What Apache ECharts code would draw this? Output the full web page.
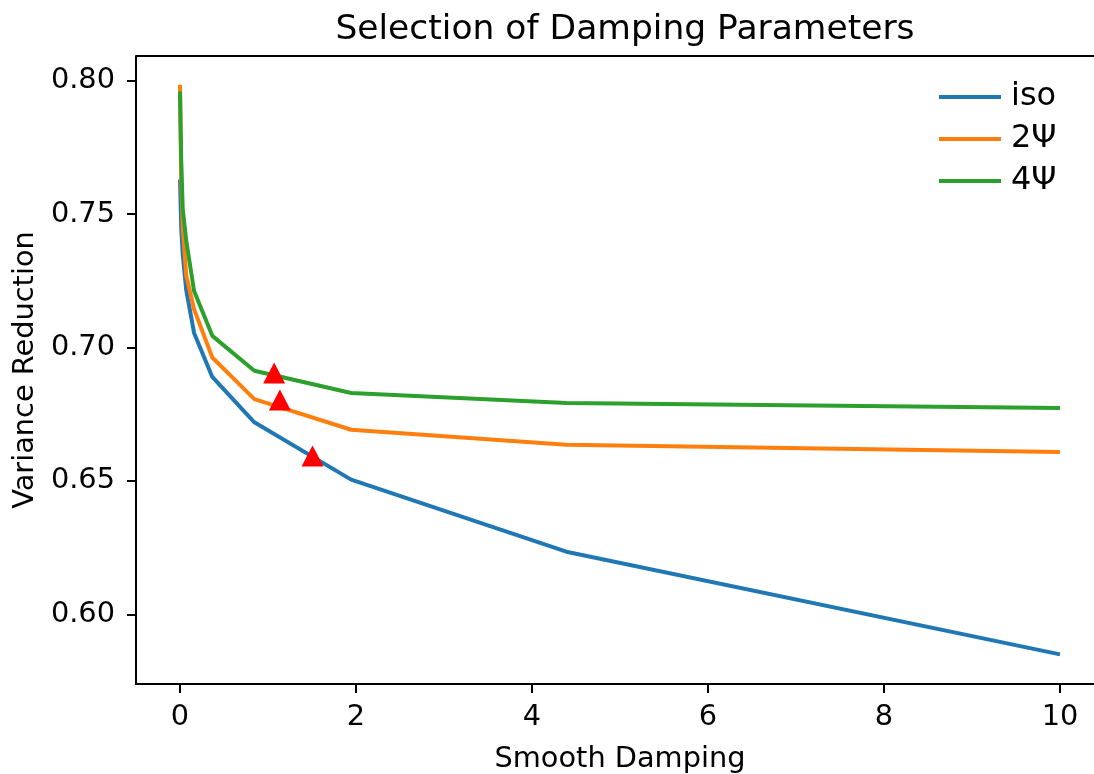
<!DOCTYPE html>
<html>
<head>
<meta charset="utf-8">
<script src="https://cdn.jsdelivr.net/npm/echarts@6/dist/echarts.min.js"></script>
<style>html,body{margin:0;padding:0;background:#fff}#c{width:1094px;height:774px}</style>
</head>
<body>
<div id="c"></div>
<script>
const xValues = [0, 0.014, 0.031, 0.071, 0.16, 0.367, 0.845, 1.945, 4.39, 10];
const isoValues = [0.763, 0.745, 0.735, 0.7215, 0.7055, 0.689, 0.672, 0.6505, 0.6235, 0.585];
const psi2Values = [0.7985, 0.762, 0.745, 0.727, 0.7144, 0.6963, 0.6807, 0.6692, 0.6636, 0.6609];
const psi4Values = [0.796, 0.770, 0.752, 0.740, 0.7212, 0.7044, 0.6913, 0.683, 0.6792, 0.6774];
const markerX = [1.07, 1.135, 1.506];
const markerY = [0.6905, 0.6804, 0.6594];
const xTicks = [0, 2, 4, 6, 8, 10];
const yTicks = [0.60, 0.65, 0.70, 0.75, 0.80];
const seriesNames = ['iso', '2Ψ', '4Ψ'];
const colors = ['#1f77b4', '#ff7f0e', '#2ca02c'];

const font = 'DejaVu Sans';
const pair = (xs, ys) => xs.map((x, i) => [x, ys[i]]);
const lineSeries = [isoValues, psi2Values, psi4Values].map((vals, i) => ({
  name: seriesNames[i], type: 'line', data: pair(xValues, vals),
  symbol: 'none', showSymbol: false, lineStyle: { width: 4, color: colors[i] }, itemStyle: { color: colors[i] },
  z: 2 + i, animation: false
}));

const chart = echarts.init(document.getElementById('c'), null, { renderer: 'canvas' });
chart.setOption({
  animation: false,
  backgroundColor: '#fff',
  title: {
    text: 'Selection of Damping Parameters', left: 620, textAlign: 'center', top: 8,
    textStyle: { fontFamily: font, fontSize: 34.5, fontWeight: 'normal', color: '#000' }
  },
  grid: { left: 136, top: 56, right: -10, bottom: 90, containLabel: false, outerBoundsMode: 'none' },
  legend: {
    data: seriesNames, orient: 'vertical', left: 934, top: 76,
    icon: 'rect', itemWidth: 62, itemHeight: 4, itemGap: 10,
    textStyle: { fontFamily: font, fontSize: 32, color: '#000', padding: [0, 0, 0, 5] }
  },
  xAxis: {
    type: 'value', min: -0.5, max: 10.5,
    name: 'Smooth Damping', nameLocation: 'middle', nameGap: 61,
    nameTextStyle: { fontFamily: font, fontSize: 28.8, color: '#000' },
    axisLine: { onZero: false, lineStyle: { color: '#000', width: 2 } },
    axisTick: { show: true, inside: false, length: 9, lineStyle: { color: '#000', width: 2 }, customValues: xTicks },
    axisLabel: { fontFamily: font, fontSize: 28.8, color: '#000', margin: 19, customValues: xTicks, formatter: v => String(v) },
    splitLine: { show: false }
  },
  yAxis: {
    type: 'value', min: 0.5739, max: 0.8093,
    name: 'Variance Reduction', nameLocation: 'middle', nameGap: 92,
    nameTextStyle: { fontFamily: font, fontSize: 28.8, color: '#000' },
    axisLine: { show: true, onZero: false, lineStyle: { color: '#000', width: 2 } },
    axisTick: { show: true, inside: false, length: 9, lineStyle: { color: '#000', width: 2 }, customValues: yTicks },
    axisLabel: { fontFamily: font, fontSize: 28.8, color: '#000', margin: 21, customValues: yTicks, formatter: v => v.toFixed(2) },
    splitLine: { show: false }
  },
  series: [
    ...lineSeries,
    {
      name: 'selected', type: 'scatter', data: pair(markerX, markerY),
      symbol: 'triangle', symbolSize: [22, 21], itemStyle: { color: '#ff0000', opacity: 1 }, z: 10
    }
  ],
  graphic: [
    { type: 'line', shape: { x1: 136, y1: 56, x2: 1094, y2: 56 }, style: { stroke: '#000', lineWidth: 2 } }
  ]
});
</script>
</body>
</html>
